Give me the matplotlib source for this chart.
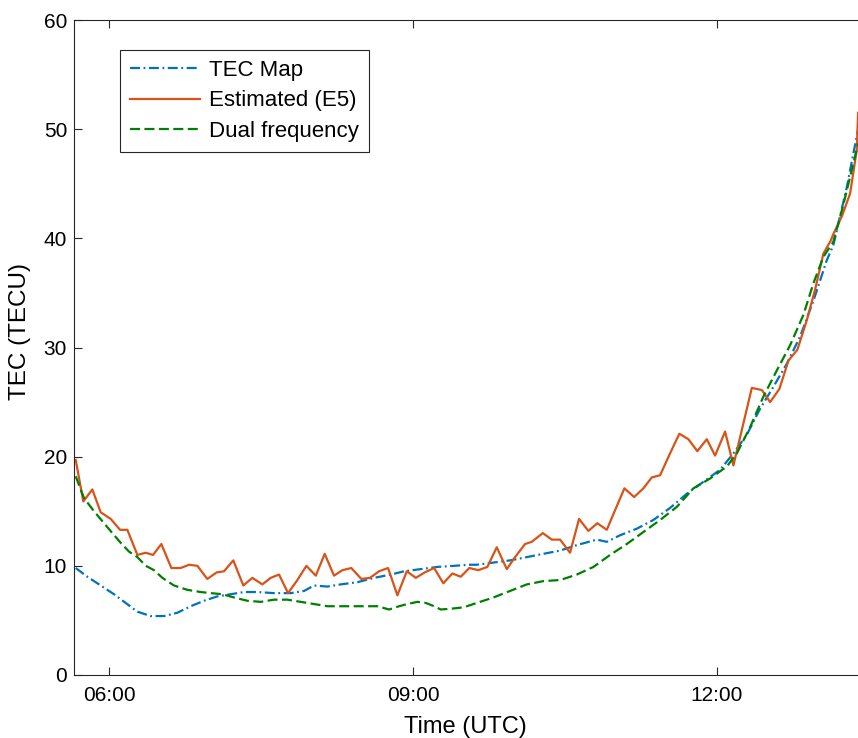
import numpy as np
import matplotlib
matplotlib.use("Agg")
import matplotlib.pyplot as plt
from matplotlib.ticker import FixedLocator, FuncFormatter

plt.rcParams['font.family'] = ['Liberation Sans', 'DejaVu Sans']

# time in decimal hours (UTC), values in TECU
t_est = [5.668, 5.743, 5.832, 5.915, 6.014, 6.106, 6.178, 6.277, 6.36, 6.432,
         6.514, 6.613, 6.705, 6.788, 6.87, 6.968, 7.061, 7.133, 7.225, 7.324,
         7.413, 7.512, 7.595, 7.677, 7.766, 7.858, 7.947, 8.04, 8.128, 8.22,
         8.302, 8.391, 8.49, 8.576, 8.665, 8.754, 8.846, 8.939, 9.028, 9.117,
         9.209, 9.30, 9.389, 9.472, 9.557, 9.646, 9.735, 9.828, 9.927, 10.009,
         10.108, 10.174, 10.283, 10.372, 10.454, 10.552, 10.641, 10.733, 10.822, 10.915,
         10.997, 11.089, 11.185, 11.277, 11.36, 11.442, 11.54, 11.632, 11.721, 11.81,
         11.903, 11.985, 12.084, 12.166, 12.348, 12.447, 12.529, 12.62, 12.71, 12.798,
         12.891, 12.973, 13.055, 13.128, 13.154, 13.237, 13.319, 13.385, 13.398]
tec_est = [19.7, 15.9, 17.0, 14.9, 14.3, 13.3, 13.3, 11.0, 11.2, 11.0,
           12.0, 9.8, 9.8, 10.1, 10.0, 8.8, 9.4, 9.5, 10.5, 8.2,
           8.9, 8.3, 8.9, 9.2, 7.5, 8.7, 10.0, 9.1, 11.1, 9.1,
           9.6, 9.8, 8.8, 8.9, 9.5, 9.8, 7.3, 9.5, 8.9, 9.4,
           9.8, 8.4, 9.3, 9.0, 9.8, 9.6, 9.9, 11.7, 9.7, 10.8,
           12.0, 12.2, 13.0, 12.4, 12.4, 11.2, 14.3, 13.2, 13.9, 13.3,
           15.1, 17.1, 16.3, 17.1, 18.1, 18.3, 20.3, 22.1, 21.6, 20.5,
           21.6, 20.1, 22.3, 19.2, 26.3, 26.1, 25.0, 26.2, 28.8, 29.8,
           32.5, 35.3, 38.6, 39.8, 40.4, 42.0, 44.1, 48.1, 51.5]

t_dual = [5.668, 5.75, 5.849, 5.948, 6.03, 6.113, 6.195, 6.277, 6.36, 6.442,
          6.524, 6.639, 6.771, 6.903, 7.002, 7.117, 7.232, 7.364, 7.496, 7.627,
          7.759, 7.891, 8.023, 8.154, 8.287, 8.418, 8.549, 8.648, 8.764, 8.863,
          8.945, 9.043, 9.127, 9.209, 9.275, 9.406, 9.50, 9.63, 9.795, 9.96,
          10.125, 10.289, 10.454, 10.619, 10.783, 10.948, 11.113, 11.277, 11.442, 11.607,
          11.771, 11.936, 12.101, 12.2, 12.331, 12.462, 12.595, 12.726, 12.858, 12.957,
          13.055, 13.154, 13.25, 13.352, 13.398]
tec_dual = [18.2, 16.2, 15.0, 13.9, 13.0, 12.1, 11.3, 10.8, 10.0, 9.6,
            8.9, 8.2, 7.8, 7.6, 7.5, 7.4, 7.1, 6.8, 6.7, 6.9,
            6.9, 6.7, 6.5, 6.3, 6.3, 6.3, 6.3, 6.3, 6.0, 6.3,
            6.5, 6.7, 6.6, 6.3, 6.0, 6.1, 6.2, 6.6, 7.1, 7.7,
            8.3, 8.6, 8.7, 9.2, 9.9, 11.0, 12.0, 13.1, 14.2, 15.4,
            17.1, 18.0, 19.1, 20.3, 22.7, 25.5, 27.9, 30.2, 33.0, 35.9,
            38.3, 39.7, 43.0, 46.9, 48.7]

t_map = [5.668, 5.783, 5.915, 6.046, 6.162, 6.277, 6.409, 6.541, 6.672, 6.804,
         6.936, 7.067, 7.2, 7.331, 7.462, 7.627, 7.792, 7.924, 8.023, 8.154,
         8.287, 8.451, 8.616, 8.781, 8.912, 9.077, 9.241, 9.406, 9.554, 9.63,
         9.795, 9.96, 10.125, 10.289, 10.454, 10.619, 10.816, 10.915, 11.046, 11.211,
         11.375, 11.54, 11.705, 11.87, 12.035, 12.166, 12.298, 12.43, 12.561, 12.693,
         12.825, 12.957, 13.089, 13.154, 13.287, 13.398]
tec_map = [9.8, 9.0, 8.2, 7.4, 6.6, 5.8, 5.4, 5.4, 5.7, 6.3,
           6.8, 7.2, 7.4, 7.6, 7.6, 7.5, 7.5, 7.7, 8.2, 8.1,
           8.3, 8.5, 8.9, 9.2, 9.5, 9.7, 9.9, 10.0, 10.1, 10.1,
           10.3, 10.5, 10.8, 11.1, 11.4, 11.9, 12.4, 12.2, 12.8, 13.4,
           14.2, 15.3, 16.6, 17.7, 18.8, 20.3, 22.0, 24.4, 26.4, 28.5,
           31.0, 34.3, 38.0, 39.4, 44.7, 50.0]

x_ticks = [6, 9, 12]
y_ticks = [0, 10, 20, 30, 40, 50, 60]

fig = plt.figure(figsize=(8.58, 7.38), dpi=100)
ax = fig.add_axes([74 / 858, 63 / 738, 0.9318, 655 / 738])

ax.plot(t_map, tec_map, color='#0072BD', ls=(0, (4.5, 1.6, 0.8, 1.6)), lw=1.6,
        label='TEC Map')
ax.plot(t_est, tec_est, color='#D95319', ls='-', lw=1.6, label='Estimated (E5)')
ax.plot(t_dual, tec_dual, color='#008000', ls=(0, (4.5, 2.0)), lw=1.6,
        label='Dual frequency')

ax.set_xlim(5.651, 13.55)
ax.set_ylim(0, 60)
ax.xaxis.set_major_locator(FixedLocator(x_ticks))
ax.xaxis.set_major_formatter(FuncFormatter(lambda v, p: f"{int(v):02d}:00"))
ax.set_yticks(y_ticks)

ax.tick_params(direction='in', top=True, right=True, length=6, width=0.8,
               labelsize=15, colors='#262626', labelcolor='black')
ax.tick_params(axis='x', pad=8)
ax.tick_params(axis='y', pad=5)
for s in ax.spines.values():
    s.set_color('#262626')
    s.set_linewidth(0.8)

ax.set_xlabel('Time (UTC)', fontsize=17)
ax.set_ylabel('TEC (TECU)', fontsize=17.5)
ax.xaxis.set_label_coords(0.49, -0.063)
ax.yaxis.set_label_coords(-0.054, 0.525)

leg = ax.legend(loc='upper left', bbox_to_anchor=(46 / 800, 1 - 30 / 655),
                fontsize=16, frameon=True, fancybox=False, framealpha=1,
                edgecolor='#262626', handlelength=3.15, handletextpad=0.4,
                borderpad=0.45, labelspacing=0.42, borderaxespad=0)
leg.get_frame().set_linewidth(0.8)

fig.savefig('out.png', dpi=100)
